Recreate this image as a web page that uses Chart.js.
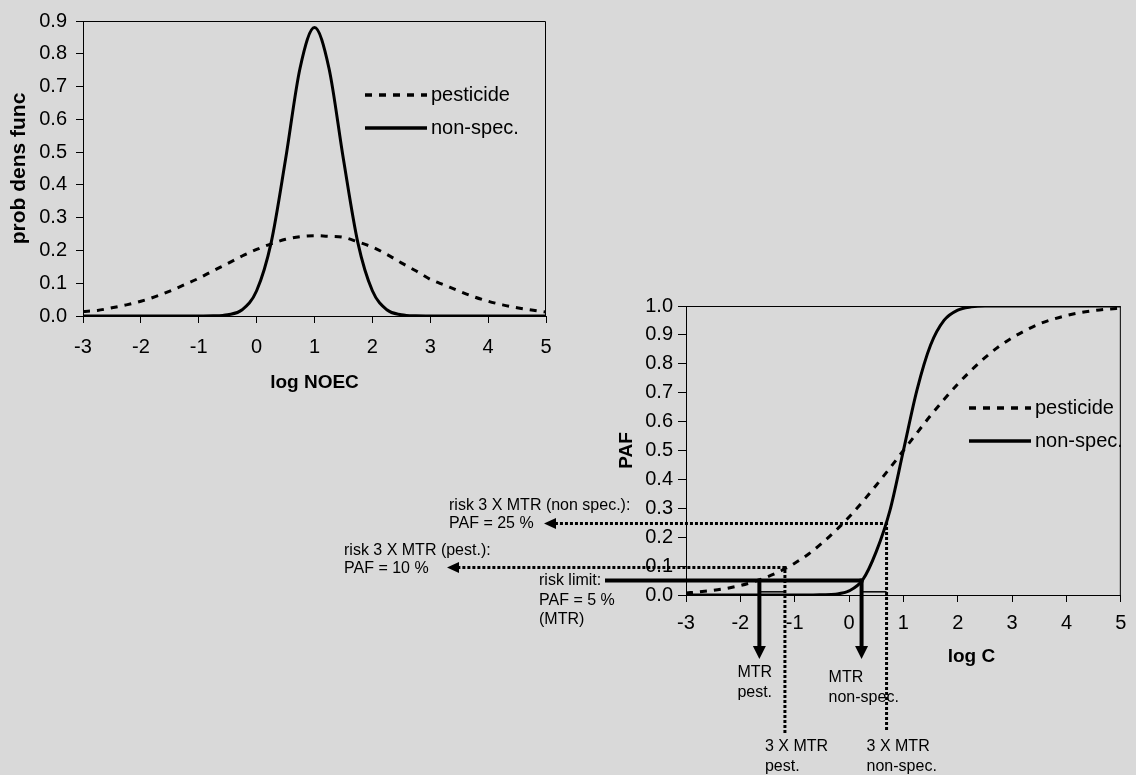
<!DOCTYPE html>
<html>
<head>
<meta charset="utf-8">
<script src="https://cdn.jsdelivr.net/npm/chart.js@4/dist/chart.umd.min.js"></script>
<style>
  html, body { margin: 0; padding: 0; background: #d9d9d9; overflow: hidden; }
  body { width: 1136px; height: 775px; position: relative; }
  canvas { position: absolute; }
  #pdfChart { left: 0; top: 0; }
  #cdfChart { left: 300px; top: 260px; }
</style>
</head>
<body>
<canvas id="pdfChart" width="570" height="410"></canvas>
<canvas id="cdfChart" width="836" height="515"></canvas>
<script>
// log concentration grid (both panels)
const logValues = [-3, -2.75, -2.5, -2.25, -2, -1.75, -1.5, -1.25, -1, -0.75, -0.5, -0.25,
  0, 0.25, 0.5, 0.75, 1, 1.25, 1.5, 1.75, 2, 2.25, 2.5, 2.75, 3, 3.25, 3.5, 3.75, 4, 4.25, 4.5, 4.75, 5];

// top panel: probability density
const pdfPesticide = [0.014, 0.017, 0.025, 0.034, 0.045, 0.059, 0.076, 0.095, 0.115, 0.138, 0.160, 0.183,
  0.203, 0.220, 0.234, 0.242, 0.245, 0.243, 0.240, 0.226, 0.210, 0.188, 0.162, 0.138, 0.112, 0.094, 0.076,
  0.059, 0.045, 0.034, 0.025, 0.018, 0.012];
const pdfNonSpec = [0, 0, 0, 0, 0, 0, 0, 0, 0, 0.0005, 0.004, 0.019,
  0.077, 0.223, 0.478, 0.756, 0.88, 0.756, 0.478, 0.223, 0.077, 0.019, 0.004, 0.0005,
  0, 0, 0, 0, 0, 0, 0, 0, 0];

// bottom panel: potentially affected fraction
const pafPesticide = [0.007, 0.011, 0.016, 0.023, 0.033, 0.046, 0.063, 0.084, 0.110, 0.141, 0.179, 0.222,
  0.270, 0.323, 0.380, 0.439, 0.500, 0.561, 0.621, 0.677, 0.730, 0.778, 0.821, 0.859, 0.890, 0.916, 0.938,
  0.954, 0.967, 0.977, 0.984, 0.989, 0.993];
const pafNonSpec = [0, 0, 0, 0, 0, 0, 0, 0, 0, 0, 0.001, 0.003,
  0.014, 0.052, 0.150, 0.291, 0.500, 0.710, 0.865, 0.951, 0.986, 0.997, 1, 1,
  1, 1, 1, 1, 1, 1, 1, 1, 1];

const seriesLabels = ['pesticide', 'non-spec.'];
const pdfTicks = [0, 0.9];
const pafTicks = [0, 1];

// MTR and 3 X MTR readings (pest., non-spec.)
const mtrLogC = [-1.65, 0.23];
const tripleMtrLogC = [-1.18, 0.69];
const tripleMtrPaf = [0.095, 0.247];
const riskLimitPaf = 0.05;

Chart.defaults.font.family = '"Liberation Sans", Arial, sans-serif';
Chart.defaults.color = '#000';
Chart.defaults.animation = false;

function points(xs, ys) {
  return xs.map((x, i) => ({ x: x, y: ys[i] }));
}

function makeDatasets(pest, nonSpec) {
  return [
    { label: seriesLabels[0], data: points(logValues, pest), borderColor: '#000', borderWidth: 3,
      borderDash: [7, 7], pointRadius: 0, cubicInterpolationMode: 'monotone', fill: false },
    { label: seriesLabels[1], data: points(logValues, nonSpec), borderColor: '#000', borderWidth: 3,
      pointRadius: 0, cubicInterpolationMode: 'monotone', fill: false }
  ];
}

// top and right edge of the plot box
const plotBox = {
  id: 'plotBox',
  beforeDatasetsDraw(chart) {
    const { ctx, chartArea: a } = chart;
    ctx.save();
    ctx.strokeStyle = '#000';
    ctx.lineWidth = 1;
    ctx.beginPath();
    ctx.moveTo(a.left, a.top + 0.5);
    ctx.lineTo(a.right - 0.5, a.top + 0.5);
    ctx.lineTo(a.right - 0.5, a.bottom);
    ctx.stroke();
    ctx.restore();
  }
};

// legend inside the plot area
const innerLegend = {
  id: 'innerLegend',
  afterDatasetsDraw(chart, args, opts) {
    const { ctx, chartArea: a } = chart;
    ctx.save();
    ctx.font = '20px "Liberation Sans", Arial, sans-serif';
    ctx.textBaseline = 'middle';
    ctx.textAlign = 'left';
    chart.data.datasets.forEach((ds, i) => {
      const y = a.top + opts.top + i * 33;
      const x0 = a.left + opts.left;
      ctx.beginPath();
      ctx.setLineDash(ds.borderDash || []);
      ctx.lineWidth = 3.5;
      ctx.strokeStyle = ds.borderColor;
      ctx.moveTo(x0, y);
      ctx.lineTo(x0 + 62, y);
      ctx.stroke();
      ctx.setLineDash([]);
      ctx.fillStyle = '#000';
      ctx.fillText(ds.label, x0 + 66, y);
    });
    ctx.restore();
  }
};

function axisX(tickPad, height, titleText, titleShow, titlePad) {
  return {
    type: 'linear', min: -3, max: 5,
    ticks: { stepSize: 1, padding: tickPad, font: { size: 20 } },
    grid: { display: true, drawOnChartArea: false, drawTicks: true, tickLength: 7, color: '#000' },
    border: { display: true, color: '#000', width: 1 },
    title: { display: titleShow, text: titleText, font: { size: 19, weight: 'bold' }, padding: titlePad },
    afterFit: s => { s.height = height; }
  };
}

function axisY(range, tickLen, tickPad, width, titleText, titleSize, titlePad) {
  return {
    type: 'linear', min: range[0], max: range[1],
    ticks: { stepSize: 0.1, padding: tickPad, font: { size: 20 }, callback: v => v.toFixed(1) },
    grid: { display: true, drawOnChartArea: false, drawTicks: true, tickLength: tickLen, color: '#000' },
    border: { display: true, color: '#000', width: 1 },
    title: { display: true, text: titleText, font: { size: titleSize, weight: 'bold' }, padding: titlePad },
    afterFit: s => { s.width = width; }
  };
}

new Chart(document.getElementById('pdfChart'), {
  type: 'line',
  data: { datasets: makeDatasets(pdfPesticide, pdfNonSpec) },
  options: {
    responsive: false,
    layout: { padding: { left: 0, right: 24, top: 14, bottom: 14 } },
    scales: {
      x: axisX(12, 80, 'log NOEC', true, { top: 0, bottom: 2 }),
      y: axisY(pdfTicks, 7, 9, 83, 'prob dens func', 21, { top: 6.4, bottom: 0 })
    },
    plugins: { legend: { display: false }, tooltip: { enabled: false }, innerLegend: { left: 282, top: 74 } }
  },
  plugins: [plotBox, innerLegend]
});

// MTR / risk annotations around the PAF panel
const riskNotes = {
  id: 'riskNotes',
  afterDraw(chart) {
    const { ctx, chartArea: a, scales: { x, y } } = chart;
    const px = v => x.getPixelForValue(v);
    const py = v => y.getPixelForValue(v);
    ctx.save();
    ctx.strokeStyle = '#000';
    ctx.fillStyle = '#000';

    // dotted 3 X MTR lines with arrows to the left
    const tipX = [a.left - 239, a.left - 142];
    const dropTo = [a.bottom + 138, a.bottom + 135];
    for (let i = 0; i < 2; i++) {
      const xv = px(tripleMtrLogC[i]);
      const yv = py(tripleMtrPaf[i]);
      ctx.lineWidth = 3;
      ctx.setLineDash([3, 2]);
      ctx.beginPath();
      ctx.moveTo(xv, dropTo[i]);
      ctx.lineTo(xv, yv);
      ctx.lineTo(tipX[i] + 11, yv);
      ctx.stroke();
      ctx.setLineDash([]);
      ctx.beginPath();
      ctx.moveTo(tipX[i], yv);
      ctx.lineTo(tipX[i] + 12, yv - 5.5);
      ctx.lineTo(tipX[i] + 12, yv + 5.5);
      ctx.closePath();
      ctx.fill();

      // thin factor-3 link near PAF 0
      ctx.lineWidth = 1.5;
      ctx.beginPath();
      ctx.moveTo(px(mtrLogC[i]), py(0.011));
      ctx.lineTo(xv, py(0.011));
      ctx.stroke();
    }

    // risk limit and MTR arrows
    const yl = py(riskLimitPaf);
    ctx.lineWidth = 4;
    ctx.beginPath();
    ctx.moveTo(a.left - 81, yl);
    ctx.lineTo(px(mtrLogC[1]) + 2, yl);
    ctx.stroke();
    mtrLogC.forEach(v => {
      const xv = px(v);
      ctx.beginPath();
      ctx.moveTo(xv, yl - 2);
      ctx.lineTo(xv, a.bottom + 52);
      ctx.stroke();
      ctx.beginPath();
      ctx.moveTo(xv, a.bottom + 64);
      ctx.lineTo(xv - 6.5, a.bottom + 51);
      ctx.lineTo(xv + 6.5, a.bottom + 51);
      ctx.closePath();
      ctx.fill();
    });

    // texts
    ctx.font = '16px "Liberation Sans", Arial, sans-serif';
    ctx.textBaseline = 'middle';
    ctx.textAlign = 'left';
    const y25 = py(tripleMtrPaf[1]);
    const y10 = py(tripleMtrPaf[0]);
    const notes = [
      ['risk 3 X MTR (non spec.):', a.left - 237, y25 - 18],
      ['PAF = 25 %', a.left - 237, y25],
      ['risk 3 X MTR (pest.):', a.left - 342, y10 - 17],
      ['PAF = 10 %', a.left - 342, y10 + 1],
      ['risk limit:', a.left - 147, yl],
      ['PAF = 5 %', a.left - 147, yl + 20],
      ['(MTR)', a.left - 147, yl + 39],
      ['MTR', px(mtrLogC[0]) - 22, a.bottom + 78],
      ['pest.', px(mtrLogC[0]) - 22, a.bottom + 98],
      ['MTR', px(mtrLogC[1]) - 33, a.bottom + 83],
      ['non-spec.', px(mtrLogC[1]) - 33, a.bottom + 103],
      ['3 X MTR', px(tripleMtrLogC[0]) - 20, a.bottom + 152],
      ['pest.', px(tripleMtrLogC[0]) - 20, a.bottom + 172],
      ['3 X MTR', px(tripleMtrLogC[1]) - 20, a.bottom + 152],
      ['non-spec.', px(tripleMtrLogC[1]) - 20, a.bottom + 172]
    ];
    notes.forEach(n => ctx.fillText(n[0], n[1], n[2]));

    // x axis title, placed right of centre as in the original
    ctx.font = 'bold 19px "Liberation Sans", Arial, sans-serif';
    ctx.textAlign = 'center';
    ctx.fillText(chart.options.scales.x.title.text, (a.left + a.right) / 2 + 68, a.bottom + 62);
    ctx.restore();
  }
};

new Chart(document.getElementById('cdfChart'), {
  type: 'line',
  data: { datasets: makeDatasets(pafPesticide, pafNonSpec) },
  options: {
    responsive: false,
    layout: { padding: { left: 314, right: 8, top: 46, bottom: 120 } },
    scales: {
      x: axisX(9.6, 60, 'log C', false, 0),
      y: axisY(pafTicks, 8, 5, 72, 'PAF', 19, { top: 1.6, bottom: 0 })
    },
    plugins: { legend: { display: false }, tooltip: { enabled: false }, innerLegend: { left: 283, top: 102 } }
  },
  plugins: [plotBox, innerLegend, riskNotes]
});
</script>
</body>
</html>
